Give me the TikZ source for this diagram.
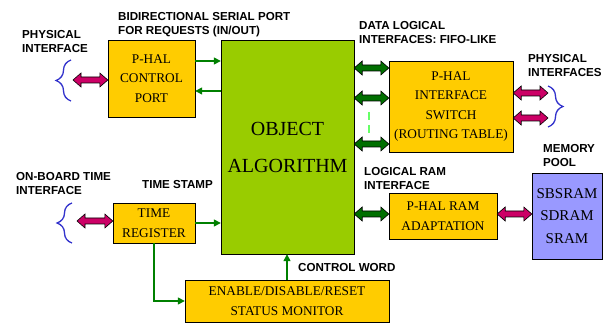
\documentclass[tikz,border=0pt]{standalone}
\usepackage{fontspec}
\setmainfont{Liberation Serif}
\setsansfont{Liberation Sans}
\usetikzlibrary{arrows.meta,calc,shadows,decorations.pathreplacing}

\definecolor{halyellow}{HTML}{FFCC00}
\definecolor{oagreen}{HTML}{99CC00}
\definecolor{memblue}{HTML}{9999FF}
\definecolor{halmagenta}{HTML}{CC0066}
\definecolor{fatgreen}{HTML}{006F00}
\definecolor{ctrlgreen}{HTML}{008000}
\definecolor{braceblue}{HTML}{3333CC}
\definecolor{dashgreen}{HTML}{66FF66}

\begin{document}
\begin{tikzpicture}[x=1pt, y=-1pt,
    box/.style={draw=black, fill=halyellow, align=center, inner sep=0pt,
        font=\fontsize{13.3}{19.5}\selectfont,
        drop shadow={shadow xshift=1.3pt, shadow yshift=-1.3pt, fill=black!60, opacity=1}},
    lbl/.style={anchor=base west, align=left, inner sep=0pt,
        font=\sffamily\bfseries\fontsize{11.6}{14}\selectfont},
    ctrl/.style={draw=ctrlgreen, line width=1.3pt, -{Triangle[length=7pt, width=7pt]}},
    fat/.style={draw=black, line width=0.6pt, fill=#1,
        to path={let \p1=(\tikztostart), \p2=(\tikztotarget) in
            (\x1,\y1) -- ++(8pt,7pt) -- ++(0,-4pt) -- (\x2-8pt,\y1+3pt) -- ++(0,4pt)
            -- (\x2,\y1) -- ++(-8pt,-7pt) -- ++(0,4pt) -- (\x1+8pt,\y1-3pt) -- ++(0,-4pt) -- cycle}},
    brace/.style={draw=braceblue, line width=1.3pt, decorate, decoration={brace, amplitude=15pt}}
]
    \useasboundingbox (0,0) rectangle (611,326);

    % Boxes
    \node[box, minimum width=87pt, minimum height=77pt] (port) at (151.5,78.5) {P-HAL\\CONTROL\\PORT};
    \node[box, fill=oagreen, minimum width=133pt, minimum height=214pt,
          font=\fontsize{20}{37}\selectfont] (oa) at (287.5,147) {OBJECT\\ALGORITHM};
    \node[box, minimum width=124pt, minimum height=91pt] (sw) at (451,106.5) {P-HAL\\INTERFACE\\SWITCH\\(ROUTING TABLE)};
    \node[box, minimum width=82pt, minimum height=40pt] (treg) at (154,223) {TIME\\REGISTER};
    \node[box, minimum width=204pt, minimum height=42pt] (mon) at (287,301) {ENABLE/DISABLE/RESET\\STATUS MONITOR};
    \node[box, minimum width=108pt, minimum height=46pt] (ram) at (443,216) {P-HAL RAM\\ADAPTATION};
    \node[box, fill=memblue, minimum width=70pt, minimum height=86pt,
          font=\fontsize{15}{22.5}\selectfont] (mem) at (567,216) {SBSRAM\\SDRAM\\SRAM};

    % Labels (placed at the baseline of their last line)
    \node[lbl] (l-phys) at (22,52.3) {PHYSICAL\\INTERFACE};
    \node[lbl] (l-bidir) at (118,34.3) {BIDIRECTIONAL SERIAL PORT\\FOR REQUESTS (IN/OUT)};
    \node[lbl] (l-data) at (359,43.3) {DATA LOGICAL\\INTERFACES: FIFO-LIKE};
    \node[lbl] (l-physs) at (528,76.7) {PHYSICAL\\INTERFACES};
    \node[lbl] (l-mem) at (543,166.7) {MEMORY\\POOL};
    \node[lbl] (l-ram) at (364,189.3) {LOGICAL RAM\\INTERFACE};
    \node[lbl] (l-time) at (16,194.3) {ON-BOARD TIME\\INTERFACE};
    \node[lbl] (l-stamp) at (142,188.3) {TIME STAMP};
    \node[lbl] (l-ctrl) at (298,271.7) {CONTROL WORD};

    % Free ends of the physical links
    \coordinate (p-port) at (73,80);
    \coordinate (p-treg) at (77,221);
    \coordinate (p-sw1) at (548,93);
    \coordinate (p-sw2) at (548,118);

    % Serial port, time stamp and control word
    \draw[ctrl] (port.east |- 0,61) -- (oa.west |- 0,61);
    \draw[ctrl] (oa.west |- 0,91) -- (port.east |- 0,91);
    \draw[ctrl] (treg.east) -- (treg.east -| oa.west);
    \draw[ctrl] (treg.south) |- (mon.west);
    \draw[ctrl] (mon.north) -- (mon.north |- oa.south);

    % Logical interfaces (fat green)
    \foreach \yy in {68,98,144}
        \draw[fat=fatgreen] (oa.east |- 0,\yy) to (sw.west |- 0,\yy);
    \draw[fat=fatgreen] (oa.east |- 0,214) to (ram.west |- 0,214);
    \draw[dashgreen, line width=1.5pt, dash pattern=on 8pt off 5pt] (369,112) -- (369,134);

    % Physical interfaces (fat magenta)
    \draw[fat=halmagenta] (p-port) to (port.west |- p-port);
    \draw[fat=halmagenta] (p-treg) to (treg.west |- p-treg);
    \draw[fat=halmagenta] (sw.east |- p-sw1) to (p-sw1);
    \draw[fat=halmagenta] (sw.east |- p-sw2) to (p-sw2);
    \draw[fat=halmagenta] (ram.east |- 0,214) to (mem.west |- 0,214);

    % Braces
    \draw[brace] (71,101) -- (71,60);
    \draw[brace] (72,243) -- (72,203);
    \draw[brace] (548,86) -- (548,127);

\end{tikzpicture}
\end{document}
